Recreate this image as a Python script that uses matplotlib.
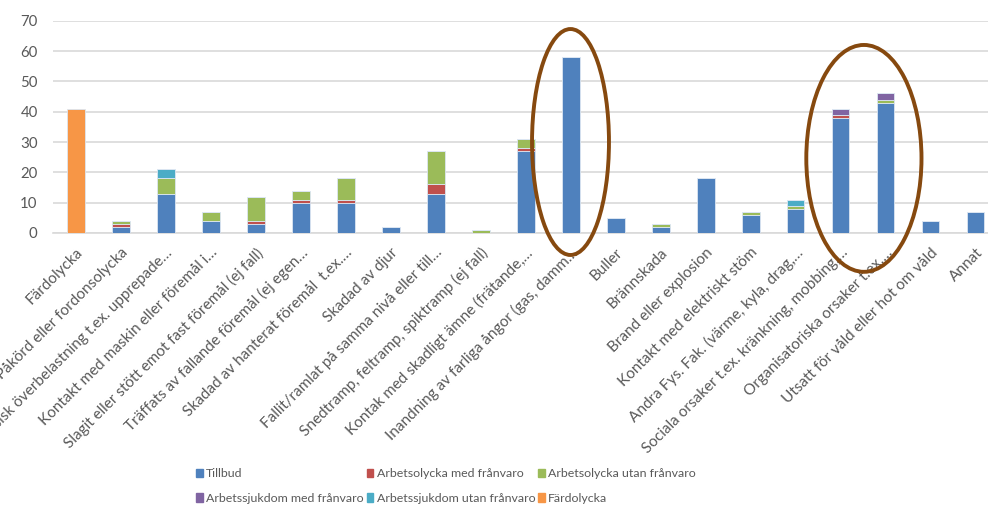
import numpy as np
import matplotlib.pyplot as plt
from matplotlib.patches import Ellipse, Patch

plt.rcParams['font.family'] = ['Lato', 'DejaVu Sans']

categories = [
    'Färdolycka',
    'Påkörd eller fordonsolycka',
    'Fysisk överbelastning t.ex. upprepade…',
    'Kontakt med maskin eller föremål i…',
    'Slagit eller stött emot fast föremål (ej fall)',
    'Träffats av fallande föremål (ej egen…',
    'Skadad av hanterat föremål  t.ex.…',
    'Skadad av djur',
    'Fallit/ramlat på samma nivå eller till…',
    'Snedtramp, feltramp, spiktramp (ej fall)',
    'Kontak med skadligt ämne (frätande,…',
    'Inandning av farliga ångor (gas, damm…',
    'Buller',
    'Brännskada',
    'Brand eller explosion',
    'Kontakt med elektriskt stöm',
    'Andra Fys. Fak. (värme, kyla, drag,…',
    'Sociala orsaker t.ex. kränkning, mobbing,…',
    'Organisatoriska orsaker t.ex.…',
    'Utsatt för våld eller hot om våld',
    'Annat',
]

tillbud      = [0, 2, 13, 4, 3, 10, 10, 2, 13, 0, 27, 58, 5, 2, 18, 6, 8, 38, 43, 4, 7]
arb_med      = [0, 1, 0, 0, 1, 1, 1, 0, 3, 0, 1, 0, 0, 0, 0, 0, 0, 1, 0, 0, 0]
arb_utan     = [0, 1, 5, 3, 8, 3, 7, 0, 11, 1, 3, 0, 0, 1, 0, 1, 1, 0, 1, 0, 0]
sjuk_med     = [0, 0, 0, 0, 0, 0, 0, 0, 0, 0, 0, 0, 0, 0, 0, 0, 0, 2, 2, 0, 0]
sjuk_utan    = [0, 0, 3, 0, 0, 0, 0, 0, 0, 0, 0, 0, 0, 0, 0, 0, 2, 0, 0, 0, 0]
fardolycka   = [41, 0, 0, 0, 0, 0, 0, 0, 0, 0, 0, 0, 0, 0, 0, 0, 0, 0, 0, 0, 0]

series = [
    ('Tillbud', tillbud, '#4F81BD'),
    ('Arbetsolycka med frånvaro', arb_med, '#C0504D'),
    ('Arbetsolycka utan frånvaro', arb_utan, '#9BBB59'),
    ('Arbetssjukdom med frånvaro', sjuk_med, '#8064A2'),
    ('Arbetssjukdom utan frånvaro', sjuk_utan, '#4BACC6'),
    ('Färdolycka', fardolycka, '#F79646'),
]

fig = plt.figure(figsize=(9.88, 5.07), dpi=100)
ax = fig.add_axes([53 / 988, 1 - 233 / 507, 945 / 988, 212.3 / 507])

x = np.arange(len(categories))
bottom = np.zeros(len(categories))
for name, vals, col in series:
    vals = np.array(vals, dtype=float)
    ax.bar(x, vals, 0.4, bottom=bottom, color=col, edgecolor='#dce6f2',
           linewidth=0.6, zorder=3)
    bottom += vals

ax.set_xlim(-0.5, len(categories) - 0.5)
ax.set_ylim(0, 70)
ax.set_yticks(range(0, 71, 10))
ax.grid(axis='y', color='#D9D9D9', linewidth=1.2, zorder=0)
for s in ['top', 'right', 'left']:
    ax.spines[s].set_visible(False)
ax.spines['bottom'].set_color('#D9D9D9')
ax.spines['bottom'].set_linewidth(1.2)
ax.tick_params(axis='both', length=0, colors='#595959')
ax.tick_params(axis='y', pad=11, labelsize=10.8)
ax.set_xticks(x)
ax.set_xticklabels(categories, rotation=45, ha='right', va='top',
                   rotation_mode='anchor', fontsize=11, color='#595959')
ax.tick_params(axis='x', pad=9)

# highlight rings
ring = '#86490F'
ax.add_patch(Ellipse((11.0, 30.0), 1.71, 74.5, fill=False, edgecolor=ring,
                     linewidth=2.8, clip_on=False, zorder=10))
ax.add_patch(Ellipse((17.52, 24.6), 2.56, 74.8, fill=False, edgecolor=ring,
                     linewidth=2.8, clip_on=False, zorder=10))

handles = [Patch(color=c, label=n) for n, v, c in series]
order = [0, 3, 1, 4, 2, 5]
fig.legend([handles[i] for i in order], [series[i][0] for i in order],
           ncol=3, loc='center', bbox_to_anchor=(446 / 988, 1 - 486 / 507),
           frameon=False, fontsize=8.9, handlelength=0.55, handleheight=0.65,
           handletextpad=0.25, columnspacing=0.25, labelspacing=1.1,
           labelcolor='#595959')

fig.savefig('out.png', dpi=100)
